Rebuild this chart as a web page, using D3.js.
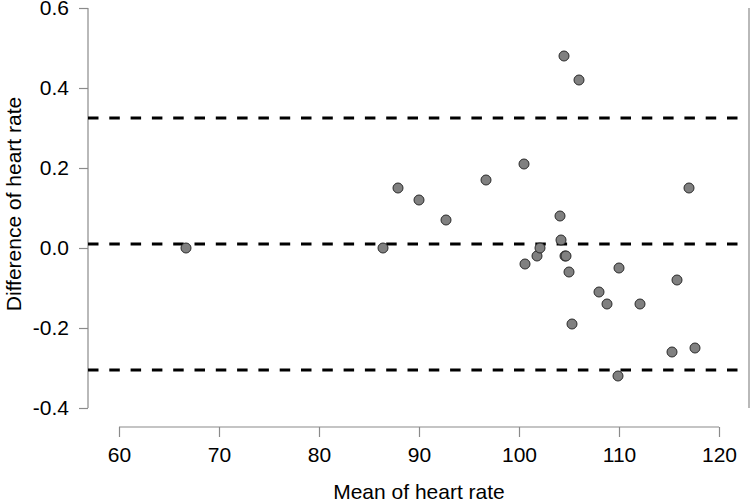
<!DOCTYPE html>
<html>
<head>
<meta charset="utf-8">
<script src="https://cdn.jsdelivr.net/npm/d3@7"></script>
<style>
  body { margin: 0; background: #fff; }
  svg { display: block; font-family: "Liberation Sans", Arial, sans-serif; }
</style>
</head>
<body>
<div id="chart"></div>
<script>
// Data
const meanHR = [66.7, 86.4, 87.9, 90.0, 92.7, 96.7, 100.5, 100.6, 101.8, 102.1, 104.1, 104.2, 104.6, 104.7, 105.0, 105.3, 104.5, 106.0, 108.0, 108.8, 110.0, 109.9, 112.1, 115.3, 115.8, 117.0, 117.6];
const diffHR = [0.00, 0.00, 0.15, 0.12, 0.07, 0.17, 0.21, -0.04, -0.02, 0.00, 0.08, 0.02, -0.02, -0.02, -0.06, -0.19, 0.48, 0.42, -0.11, -0.14, -0.05, -0.32, -0.14, -0.26, -0.08, 0.15, -0.25];
const refLines = [0.325, 0.010, -0.305];
const xTicks = [60, 70, 80, 90, 100, 110, 120];
const yTicks = [-0.4, -0.2, 0.0, 0.2, 0.4, 0.6];
const xTitle = "Mean of heart rate";
const yTitle = "Difference of heart rate";

const W = 750, H = 501;
const FS = "21px";
const svg = d3.select("#chart").append("svg").attr("width", W).attr("height", H);

const x = d3.scaleLinear().domain([60, 120]).range([119, 719]);
const y = d3.scaleLinear().domain([-0.4, 0.6]).range([408, 8]);
const axisColor = "#8a8a8a";

// Y axis
const yAxis = svg.append("g").attr("transform", "translate(88,0)")
  .call(d3.axisLeft(y).tickValues(yTicks).tickFormat(d => d.toFixed(1)).tickSize(9).tickPadding(10));
yAxis.select(".domain").attr("d", `M0,${y(0.6)}V${y(-0.4)}`);

// X axis
const xAxis = svg.append("g").attr("transform", "translate(0,427)")
  .call(d3.axisBottom(x).tickValues(xTicks).tickFormat(d => String(d)).tickSize(10).tickPadding(10));
xAxis.select(".domain").attr("d", `M${x(60)},0H${x(120)}`);

[yAxis, xAxis].forEach(g => {
  g.attr("font-size", null).attr("font-family", null);
  g.select(".domain").attr("stroke", axisColor).attr("stroke-width", 1.2);
  g.selectAll(".tick line").attr("stroke", axisColor).attr("stroke-width", 1.2);
  g.selectAll(".tick text").attr("fill", "#000").style("font-size", FS).style("font-family", "Liberation Sans, Arial, sans-serif");
});

// Right border line
svg.append("line")
  .attr("x1", 749).attr("x2", 749).attr("y1", y(0.6)).attr("y2", y(-0.4))
  .attr("stroke", axisColor).attr("stroke-width", 1.2);

// Reference dashed lines
svg.append("g").selectAll("line").data(refLines).join("line")
  .attr("x1", 88).attr("x2", 746)
  .attr("y1", d => y(d)).attr("y2", d => y(d))
  .attr("stroke", "#000").attr("stroke-width", 3)
  .attr("stroke-dasharray", "10.5,10.8");

// Points
svg.append("g").selectAll("circle").data(meanHR.map((m, i) => [m, diffHR[i]])).join("circle")
  .attr("cx", d => x(d[0])).attr("cy", d => y(d[1])).attr("r", 5)
  .attr("fill", "#808080").attr("stroke", "#2a2a2a").attr("stroke-width", 1);

// Titles
svg.append("text").attr("x", 419).attr("y", 499).attr("text-anchor", "middle")
  .style("font-size", FS).attr("fill", "#000").text(xTitle);
svg.append("text").attr("transform", "translate(21,204) rotate(-90)").attr("text-anchor", "middle")
  .style("font-size", FS).attr("fill", "#000").text(yTitle);
</script>
</body>
</html>
